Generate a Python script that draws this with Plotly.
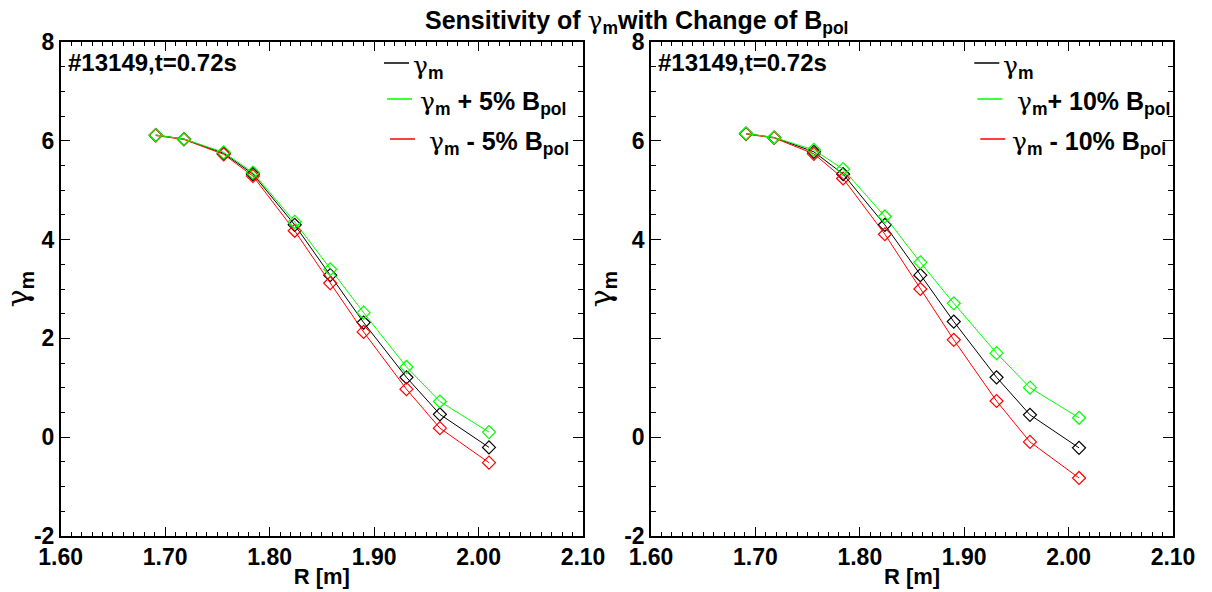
import plotly.graph_objects as go

# ---------------- data ----------------
R = [1.691, 1.718, 1.756, 1.784, 1.824, 1.858, 1.890, 1.931, 1.963, 2.010]

left_base  = [6.12, 6.04, 5.75, 5.33, 4.30, 3.28, 2.32, 1.21, 0.46, -0.21]
left_plus  = [6.12, 6.04, 5.77, 5.36, 4.36, 3.40, 2.52, 1.42, 0.72, 0.10]
left_minus = [6.11, 6.03, 5.73, 5.29, 4.18, 3.12, 2.13, 0.97, 0.18, -0.52]

right_base  = [6.15, 6.07, 5.78, 5.33, 4.30, 3.28, 2.34, 1.21, 0.45, -0.22]
right_plus  = [6.15, 6.07, 5.82, 5.43, 4.47, 3.54, 2.71, 1.70, 1.00, 0.39]
right_minus = [6.14, 6.06, 5.74, 5.24, 4.11, 3.00, 1.97, 0.73, -0.10, -0.83]

x_range = [1.6, 2.1]
y_range = [-2, 8]
left_label_alias = {"\u22122": "-2"}
right_label_alias = {"\u22122": "-2", "2": " "}

G = '<span style="font-family:DejaVu Serif;font-weight:normal">γ</span>'
shot_label = "#13149,t=0.72s"
left_legend = [G + "<sub>m</sub>", G + "<sub>m</sub> + 5% B<sub>pol</sub>", " " + G + "<sub>m</sub> - 5% B<sub>pol</sub>"]
right_legend = [G + "<sub>m</sub>", " " + G + "<sub>m</sub>+ 10% B<sub>pol</sub>", G + "<sub>m</sub> - 10% B<sub>pol</sub>"]
title_text = "Sensitivity of " + G + "<sub>m</sub>with Change of B<sub>pol</sub>"

BLACK, GREEN, RED = "#000000", "#00ff00", "#ff0000"
FONT = "Liberation Sans"

W, H = 1212, 592
fig = go.Figure()

def add_panel(xa, ya, base, plus, minus):
    for ys, col in [(base, BLACK), (minus, RED), (plus, GREEN)]:
        fig.add_trace(go.Scatter(
            x=R, y=ys, xaxis=xa, yaxis=ya, mode="lines+markers",
            line=dict(color=col, width=1),
            marker=dict(symbol="diamond-open", size=10, color=col, line=dict(width=1.2, color=col)),
            showlegend=False, hoverinfo="skip"))

add_panel("x", "y", left_base, left_plus, left_minus)
add_panel("x2", "y2", right_base, right_plus, right_minus)

ydom = [1 - 535.7 / H, 1 - 42.3 / H]
xdom1 = [60.7 / W, 583 / W]
xdom2 = [651 / W, 1173 / W]

tickfont = dict(family=FONT, size=23, color="black", weight="bold")

def xaxis(dom, anchor):
    return dict(domain=dom, anchor=anchor, range=x_range, automargin=False,
                tickmode="linear", tick0=1.6, dtick=0.1, tickformat=".2f",
                ticks="inside", ticklen=9, tickwidth=1, tickcolor="black",
                minor=dict(tickmode="linear", tick0=1.6, dtick=0.01, ticks="inside", ticklen=4,
                           tickwidth=1, tickcolor="black", showgrid=False),
                showline=True, linecolor="black", linewidth=1.5, mirror="ticks",
                showgrid=False, zeroline=False, tickfont=tickfont,
                title=dict(text="R [m]", font=dict(family=FONT, size=22, color="black", weight="bold"), standoff=0))

def yaxis(anchor, alias):
    return dict(domain=ydom, anchor=anchor, range=y_range, automargin=False,
                tickmode="linear", tick0=-2, dtick=2, labelalias=alias,
                ticks="inside", ticklen=10, tickwidth=1, tickcolor="black",
                minor=dict(tickmode="linear", tick0=-2, dtick=0.5, ticks="inside", ticklen=5,
                           tickwidth=1, tickcolor="black", showgrid=False),
                showline=True, linecolor="black", linewidth=1.5, mirror="ticks",
                showgrid=False, zeroline=False, tickfont=tickfont,
                title=dict(text=G + "<sub>m</sub>", font=dict(family=FONT, size=30, color="black", weight="bold"), standoff=4))

annotations = []
shapes = []

def legend(xoff, labels):
    rows = [(63, 384, 409, BLACK, 411), (99, 387, 412, GREEN, 418), (139, 390, 415, RED, 420)]
    for (yy, x0, x1, col, tx), lab in zip(rows, labels):
        shapes.append(dict(type="line", xref="paper", yref="paper",
                           x0=(x0 + xoff) / W, x1=(x1 + xoff) / W,
                           y0=1 - yy / H, y1=1 - yy / H, line=dict(color=col, width=1.5)))
        annotations.append(dict(text=lab, xref="paper", yref="paper", x=(tx + xoff) / W,
                                y=1 - (yy + 4) / H, xanchor="left", yanchor="middle", showarrow=False,
                                font=dict(family=FONT, size=25, color="black", weight="bold")))
    annotations.append(dict(text=shot_label, xref="paper", yref="paper", x=(66 + xoff) / W,
                            y=1 - 63 / H, xanchor="left", yanchor="middle", showarrow=False,
                            font=dict(family=FONT, size=24, color="black", weight="bold")))

legend(0, left_legend)
legend(590.3, right_legend)

annotations.append(dict(text=title_text,
                        xref="paper", yref="paper", x=636 / W, y=1 - 22 / H,
                        xanchor="center", yanchor="middle", showarrow=False,
                        font=dict(family=FONT, size=25, color="black", weight="bold")))

fig.update_layout(
    width=W, height=H, margin=dict(l=0, r=0, t=0, b=0, autoexpand=False),
    paper_bgcolor="white", plot_bgcolor="white",
    xaxis=xaxis(xdom1, "y"), yaxis=yaxis("x", left_label_alias),
    xaxis2=xaxis(xdom2, "y2"), yaxis2=yaxis("x2", right_label_alias),
    annotations=annotations, shapes=shapes,
)

fig.write_html("out.html")
